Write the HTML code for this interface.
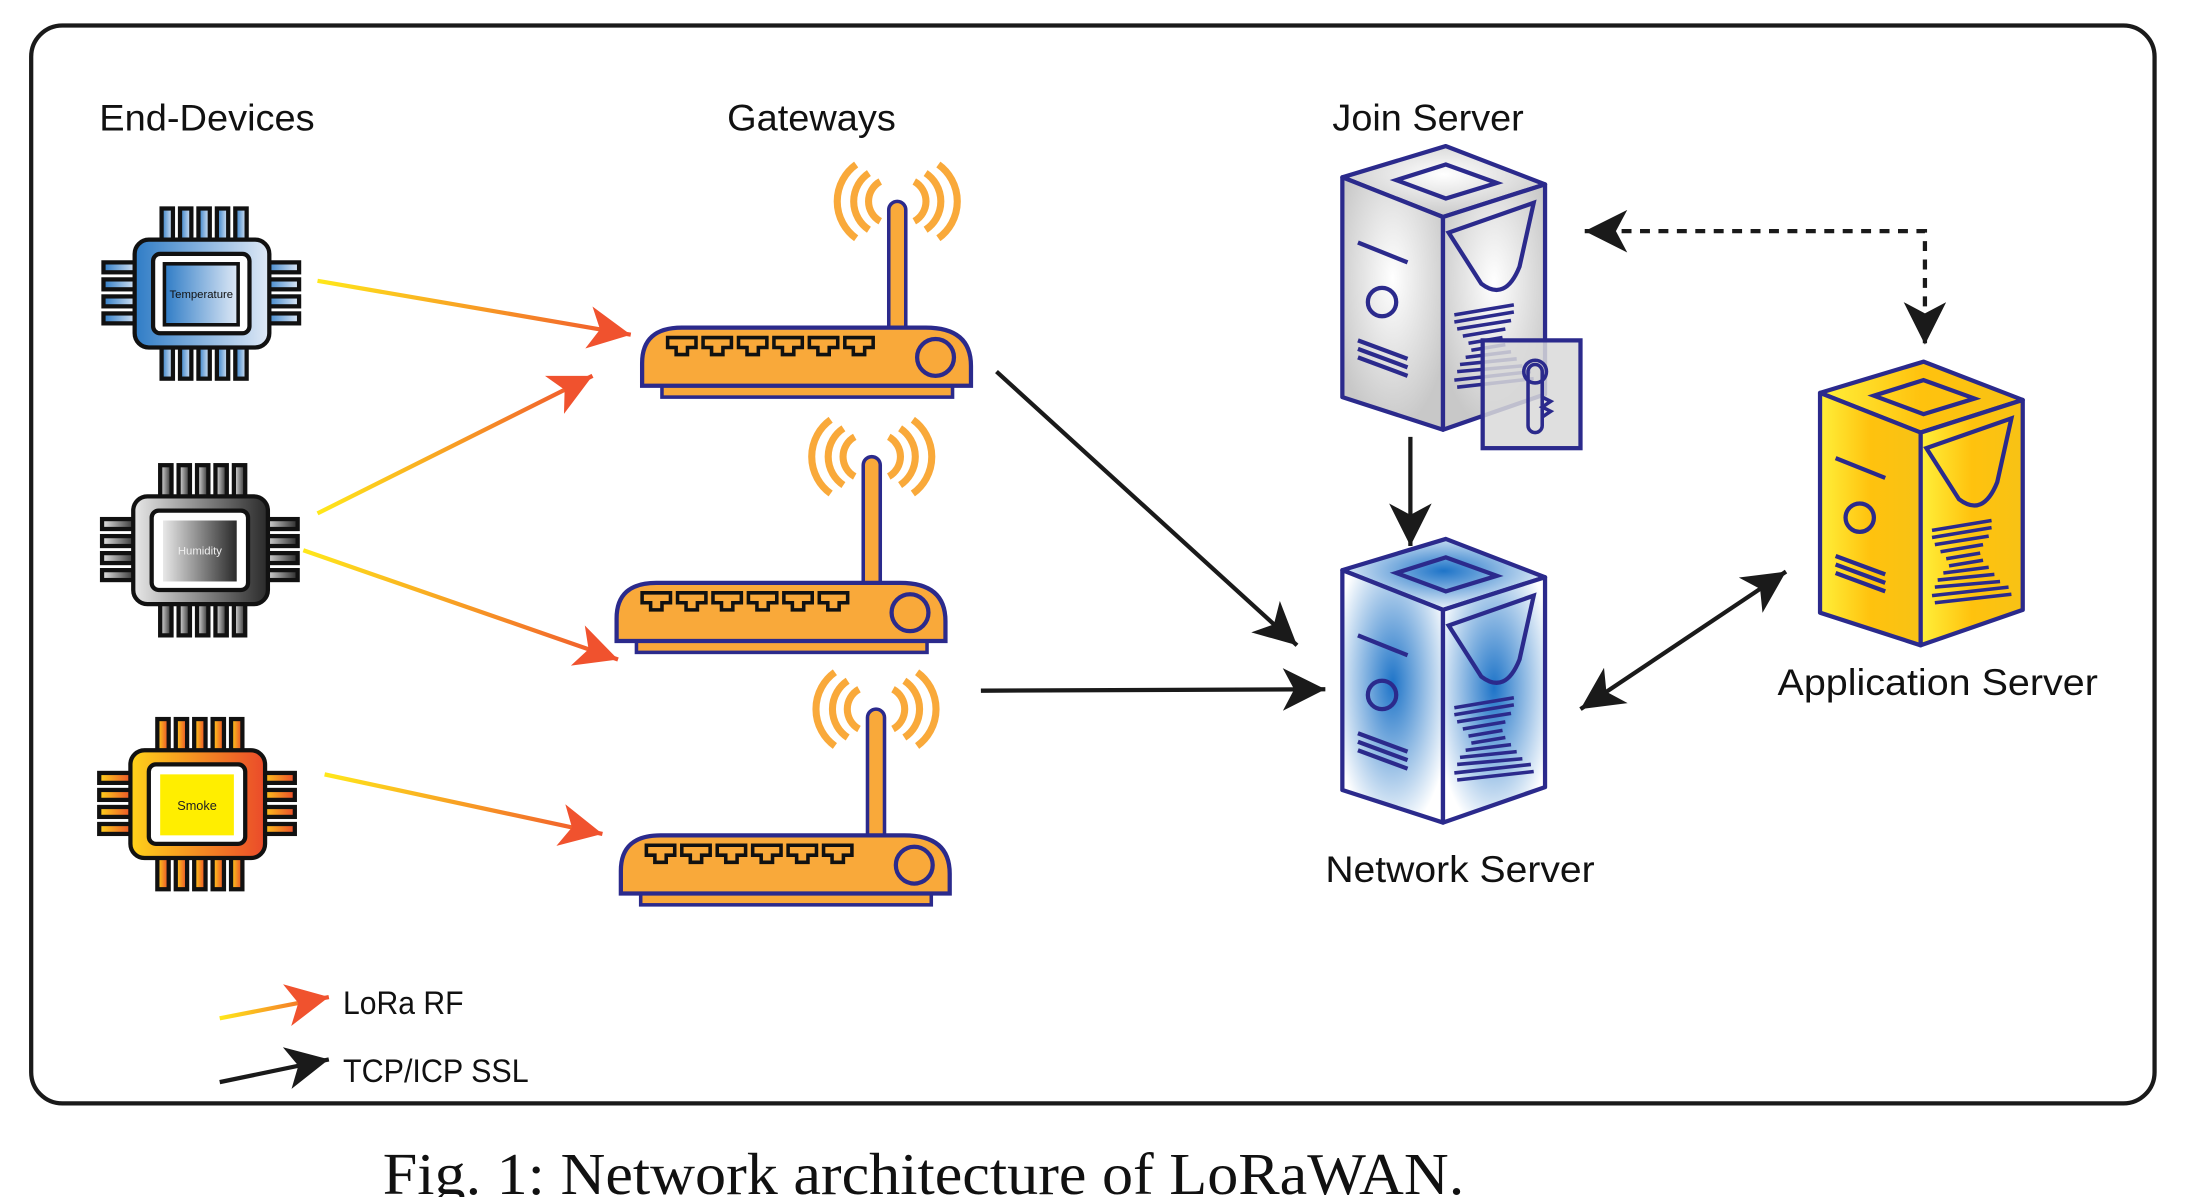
<!DOCTYPE html>
<html><head><meta charset="utf-8"><style>
html,body{margin:0;padding:0;background:#fff;}
svg{display:block;}
.lbl{font-family:"Liberation Sans",sans-serif;font-size:26px;fill:#111;}
</style></head><body>
<svg width="2190" height="1197" viewBox="0 0 1545 844" preserveAspectRatio="none" xmlns="http://www.w3.org/2000/svg">
<defs>
<linearGradient id="ora" x1="0" y1="0" x2="1" y2="0"><stop offset="0" stop-color="#ffe81a"/><stop offset="1" stop-color="#f0522e"/></linearGradient>
<linearGradient id="gBlue" x1="0" y1="0" x2="1" y2="0"><stop offset="0" stop-color="#2f7cc6"/><stop offset="1" stop-color="#dfe9f6"/></linearGradient>
<linearGradient id="gGray" x1="0" y1="0" x2="1" y2="0"><stop offset="0" stop-color="#e8e8e8"/><stop offset="1" stop-color="#2a2a2a"/></linearGradient>
<linearGradient id="gOr" x1="0" y1="0" x2="1" y2="0"><stop offset="0" stop-color="#ffd21a"/><stop offset="1" stop-color="#ea4a2a"/></linearGradient>
<radialGradient id="rGray" cx="0.5" cy="0.4" r="0.6"><stop offset="0" stop-color="#fff"/><stop offset="1" stop-color="#c8c8c8"/></radialGradient>
<radialGradient id="rBlue" cx="0.5" cy="0.45" r="0.6"><stop offset="0" stop-color="#1e74c8"/><stop offset="1" stop-color="#ffffff"/></radialGradient>
<linearGradient id="yel" x1="0" y1="0" x2="1" y2="0"><stop offset="0" stop-color="#fff03a"/><stop offset="0.5" stop-color="#ffc20e"/><stop offset="1" stop-color="#f7c215"/></linearGradient>
<marker id="mo" markerUnits="userSpaceOnUse" markerWidth="40" markerHeight="40" refX="30" refY="15" orient="auto"><path d="M0,0 L30,15 L0,30 L8,15 Z" fill="#f0522e"/></marker>
<marker id="mb" markerUnits="userSpaceOnUse" markerWidth="40" markerHeight="40" refX="30" refY="15" orient="auto"><path d="M0,0 L30,15 L0,30 L8,15 Z" fill="#1a1a1a"/></marker>
<marker id="mbs" markerUnits="userSpaceOnUse" markerWidth="40" markerHeight="40" refX="0" refY="15" orient="auto"><path d="M30,0 L0,15 L30,30 L22,15 Z" fill="#1a1a1a"/></marker>
<g id="pins" stroke="#111" stroke-width="3">
  <rect x="-28" y="-60" width="8" height="24"/><rect x="-15" y="-60" width="8" height="24"/><rect x="-2" y="-60" width="8" height="24"/><rect x="11" y="-60" width="8" height="24"/><rect x="24" y="-60" width="8" height="24"/>
  <rect x="-28" y="36" width="8" height="24"/><rect x="-15" y="36" width="8" height="24"/><rect x="-2" y="36" width="8" height="24"/><rect x="11" y="36" width="8" height="24"/><rect x="24" y="36" width="8" height="24"/>
  <rect x="-69" y="-22" width="24" height="7"/><rect x="-69" y="-10" width="24" height="7"/><rect x="-69" y="2" width="24" height="7"/><rect x="-69" y="14" width="24" height="7"/>
  <rect x="45" y="-22" width="24" height="7"/><rect x="45" y="-10" width="24" height="7"/><rect x="45" y="2" width="24" height="7"/><rect x="45" y="14" width="24" height="7"/>
</g>
<g id="router">
  <g fill="none" stroke="#f9a93a" stroke-width="5">
    <path d="M168,-100 A16,16 0 0 0 168,-72"/><path d="M160,-106 A24,24 0 0 0 160,-66"/><path d="M151,-112 A32,32 0 0 0 151,-60"/>
    <path d="M192,-100 A16,16 0 0 1 192,-72"/><path d="M200,-106 A24,24 0 0 1 200,-66"/><path d="M209,-112 A32,32 0 0 1 209,-60"/>
  </g>
  <path d="M174,4 V-80 A6,6 0 0 1 186,-80 V4 Z" fill="#f9a93a" stroke="#2b2a8c" stroke-width="2.5"/>
  <rect x="14" y="44" width="205" height="8" fill="#f9a93a" stroke="#2b2a8c" stroke-width="2.5"/>
  <path d="M0,44 V28 Q0,3 28,3 H200 Q232,3 232,30 V44 Z" fill="#f9a93a" stroke="#2b2a8c" stroke-width="3"/>
  <g fill="none" stroke="#111" stroke-width="2.5">
    <path d="M18,10 h20 v7 h-6 v5 h-8 v-5 h-6 z"/><path d="M43,10 h20 v7 h-6 v5 h-8 v-5 h-6 z"/><path d="M68,10 h20 v7 h-6 v5 h-8 v-5 h-6 z"/><path d="M93,10 h20 v7 h-6 v5 h-8 v-5 h-6 z"/><path d="M118,10 h20 v7 h-6 v5 h-8 v-5 h-6 z"/><path d="M143,10 h20 v7 h-6 v5 h-8 v-5 h-6 z"/>
  </g>
  <circle cx="207" cy="24" r="13" fill="none" stroke="#2b2a8c" stroke-width="3"/>
</g>
<g id="srvlines" fill="none" stroke="#2b2a8c" stroke-width="3">
  <polygon points="985,127 1020,116 1056,129 1020,140"/>
  <line x1="958" y1="171" x2="993" y2="185"/>
  <circle cx="975" cy="213" r="10"/>
  <line x1="958" y1="240" x2="993" y2="253"/><line x1="958" y1="246" x2="993" y2="259"/><line x1="958" y1="252" x2="993" y2="265"/>
  <path d="M1022,164 L1082,143 L1072,188 Q1062,213 1045,200 Z"/>
  <g stroke-width="2.5">
    <line x1="1026" y1="222" x2="1068" y2="215"/><line x1="1026" y1="227" x2="1068" y2="220"/><line x1="1028" y1="232" x2="1066" y2="226"/><line x1="1032" y1="237" x2="1062" y2="232"/><line x1="1036" y1="242" x2="1060" y2="238"/><line x1="1038" y1="247" x2="1062" y2="243"/><line x1="1034" y1="252" x2="1066" y2="248"/><line x1="1030" y1="257" x2="1070" y2="253"/><line x1="1028" y1="262" x2="1074" y2="258"/><line x1="1026" y1="268" x2="1080" y2="262"/><line x1="1028" y1="273" x2="1082" y2="267"/>
  </g>
</g>
<g id="srvbox" stroke="#2b2a8c" stroke-width="3" stroke-linejoin="round">
  <polygon points="947,125 1020,103 1090,130 1018,153"/>
  <polygon points="947,125 1018,153 1018,303 947,280"/>
  <polygon points="1018,153 1090,130 1090,278 1018,303"/>
</g>
</defs>

<rect x="22" y="18" width="1498" height="760" rx="22" fill="#fff" stroke="#1a1a1a" stroke-width="3"/>

<text class="lbl" x="70" y="92" textLength="152" lengthAdjust="spacingAndGlyphs">End-Devices</text>
<text class="lbl" x="513" y="92" textLength="119" lengthAdjust="spacingAndGlyphs">Gateways</text>
<text class="lbl" x="940" y="92" textLength="135" lengthAdjust="spacingAndGlyphs">Join Server</text>
<text class="lbl" x="935" y="622" textLength="190" lengthAdjust="spacingAndGlyphs">Network Server</text>
<text class="lbl" x="1254" y="490" textLength="226" lengthAdjust="spacingAndGlyphs">Application Server</text>

<g transform="translate(142,207)">
  <use href="#pins" fill="url(#gBlue)"/>
  <rect x="-47" y="-38" width="95" height="76" rx="10" fill="url(#gBlue)" stroke="#111" stroke-width="3"/>
  <rect x="-34" y="-28" width="68" height="56" rx="5" fill="#fff" stroke="#111" stroke-width="3"/>
  <rect x="-26" y="-21" width="52" height="43" fill="url(#gBlue)" stroke="#111" stroke-width="2.5"/>
  <text x="0" y="3" font-family="Liberation Sans,sans-serif" font-size="8" text-anchor="middle" fill="#111">Temperature</text>
</g>
<g transform="translate(141,388)">
  <use href="#pins" fill="url(#gGray)"/>
  <rect x="-47" y="-38" width="95" height="76" rx="10" fill="url(#gGray)" stroke="#111" stroke-width="3"/>
  <rect x="-34" y="-28" width="68" height="56" rx="5" fill="#fff" stroke="#111" stroke-width="3"/>
  <rect x="-26" y="-21" width="52" height="43" fill="url(#gGray)"/>
  <text x="0" y="3" font-family="Liberation Sans,sans-serif" font-size="8" text-anchor="middle" fill="#eee">Humidity</text>
</g>
<g transform="translate(139,567)">
  <use href="#pins" fill="url(#gOr)"/>
  <rect x="-47" y="-38" width="95" height="76" rx="10" fill="url(#gOr)" stroke="#111" stroke-width="3"/>
  <rect x="-34" y="-28" width="68" height="56" rx="5" fill="#fff" stroke="#111" stroke-width="3"/>
  <rect x="-26" y="-21" width="52" height="43" fill="#ffee00"/>
  <text x="0" y="4" font-family="Liberation Sans,sans-serif" font-size="9" text-anchor="middle" fill="#222">Smoke</text>
</g>

<use href="#router" transform="translate(453,228)"/>
<use href="#router" transform="translate(435,408)"/>
<use href="#router" transform="translate(438,586)"/>

<g>
  <use href="#srvbox" fill="url(#rGray)"/>
  <use href="#srvlines"/>
  <rect x="1046" y="240" width="69" height="76" fill="#d9d9d9" fill-opacity="0.85" stroke="#2b2a8c" stroke-width="3"/>
  <path d="M1078,300 V262 A5,5 0 0 1 1088,262 V300 A5,5 0 0 1 1078,300 Z M1088,280 l6,3 -6,4 6,3 -6,4" fill="none" stroke="#2b2a8c" stroke-width="2.5"/>
  <circle cx="1083" cy="262" r="8" fill="none" stroke="#2b2a8c" stroke-width="2.5"/>
</g>
<g transform="translate(0,277)">
  <use href="#srvbox" fill="url(#rBlue)"/>
  <use href="#srvlines"/>
</g>
<g transform="translate(337,152)">
  <use href="#srvbox" fill="url(#yel)"/>
  <use href="#srvlines"/>
</g>

<g stroke-width="3" fill="none">
  <line x1="224" y1="198" x2="445" y2="236" stroke="url(#ora)" marker-end="url(#mo)"/>
  <line x1="224" y1="362" x2="418" y2="265" stroke="url(#ora)" marker-end="url(#mo)"/>
  <line x1="214" y1="388" x2="436" y2="465" stroke="url(#ora)" marker-end="url(#mo)"/>
  <line x1="229" y1="546" x2="425" y2="588" stroke="url(#ora)" marker-end="url(#mo)"/>
  <line x1="155" y1="718" x2="232" y2="703" stroke="url(#ora)" marker-end="url(#mo)"/>
</g>
<g stroke="#1a1a1a" stroke-width="3" fill="none">
  <line x1="703" y1="262" x2="915" y2="455" marker-end="url(#mb)"/>
  <line x1="692" y1="487" x2="935" y2="486" marker-end="url(#mb)"/>
  <line x1="995" y1="308" x2="995" y2="385" marker-end="url(#mb)"/>
  <line x1="1115" y1="500" x2="1260" y2="403" marker-start="url(#mbs)" marker-end="url(#mb)"/>
  <polyline points="1118,163 1358,163 1358,243" stroke-dasharray="7,6" marker-start="url(#mbs)" marker-end="url(#mb)"/>
  <line x1="155" y1="763" x2="232" y2="747" marker-end="url(#mb)"/>
</g>
<text class="lbl" x="242" y="715" style="font-size:23px" textLength="85" lengthAdjust="spacingAndGlyphs">LoRa RF</text>
<text class="lbl" x="242" y="763" style="font-size:23px" textLength="131" lengthAdjust="spacingAndGlyphs">TCP/ICP SSL</text>

<text x="270" y="842" font-family="Liberation Serif,serif" font-size="42" fill="#111" textLength="763" lengthAdjust="spacingAndGlyphs">Fig. 1: Network architecture of LoRaWAN.</text>
</svg>
</body></html>
